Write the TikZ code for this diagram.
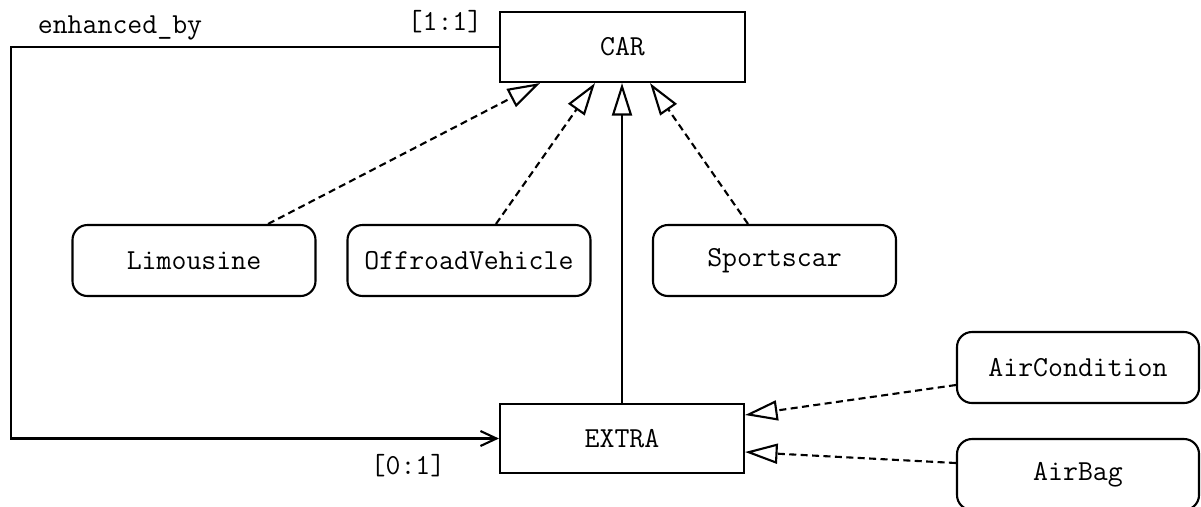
\documentclass[tikz,border=0pt]{standalone}
\usetikzlibrary{arrows.meta}

\begin{document}
\begin{tikzpicture}[line width=1.2pt,
                font=\ttfamily\fontsize{16.5}{19}\selectfont,
                entity/.style={draw, rectangle, minimum width=4.9cm, minimum height=1.4cm},
                subtype/.style={draw, rounded corners=0.3cm, minimum width=4.86cm, minimum height=1.42cm},
                isa/.style={-{Triangle[open, length=0.65cm, width=0.4cm]}},
                isadash/.style={isa, dash pattern=on 4pt off 2.5pt}]
                \useasboundingbox (0,0) rectangle (24.02,-10.12);

                \node [entity] (car) at (12.45,-0.94) {CAR};
                \node [entity, minimum width=4.88cm, minimum height=1.38cm] (extra) at (12.44,-8.77) {EXTRA};

                \node [subtype] (limousine) at (3.88,-5.21) {Limousine};
                \node [subtype] (offroad) at (9.38,-5.21) {OffroadVehicle};
                \node [subtype] (sportscar) at (15.49,-5.21) {Sportscar};
                \node [subtype, minimum width=4.84cm] (aircondition) at (21.56,-7.35) {AirCondition};
                \node [subtype, minimum width=4.84cm] (airbag) at (21.56,-9.49) {AirBag};

                \draw [isadash] ([xshift=1.48cm]limousine.north) -- ([xshift=-1.65cm]car.south);
                \draw [isadash] ([xshift=0.54cm]offroad.north) -- ([xshift=-0.55cm]car.south);
                \draw [isadash] ([xshift=-0.53cm]sportscar.north) -- ([xshift=0.55cm]car.south);
                \draw [isa] (extra.north) -- (extra.north |- car.south);

                \draw [isadash] ([yshift=-0.35cm]aircondition.west) -- ([yshift=0.47cm]extra.east);
                \draw [isadash] ([yshift=0.23cm]airbag.west) -- ([yshift=-0.27cm]extra.east);

                \draw [-{Straight Barb[length=0.32cm, width=0.3cm]}] (car.west) -- ++(-9.76,0) |- (extra.west);

                \node (enhanced) at (2.4,-0.56) {enhanced\_by};
                \node (cardcar) at (8.9,-0.44) {[1:1]};
                \node (cardextra) at (8.16,-9.32) {[0:1]};

                \end{tikzpicture}
\end{document}
